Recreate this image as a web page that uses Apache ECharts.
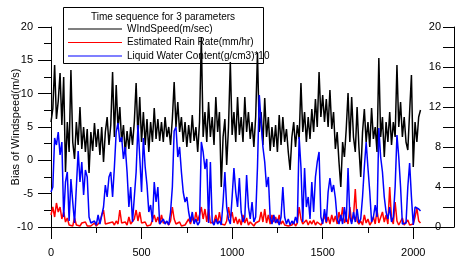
<!DOCTYPE html>
<html>
<head>
<meta charset="utf-8">
<script src="https://cdn.jsdelivr.net/npm/echarts@6/dist/echarts.min.js"></script>
<style>
  html, body { margin: 0; padding: 0; background: #fff; }
  #main { width: 456px; height: 262px; }
</style>
</head>
<body>
<div id="main"></div>
<script>
// one sample every 10 time steps
const step = 10;

const seriesNames = ['WIndSpeed(m/sec)', 'Estimated Rain Rate(mm/hr)', 'Liquid Water Content(g/cm3)*10'];
const seriesColors = ['#000000', '#ff0000', '#0000ff'];

const windSpeed = [
  10.5, 11.8, 16.2, 10.8, 12.6, 15.4, 10.2, 15.0, 5.5, 10.5,
  7.5, 15.7, 8.5, 6.8, 10.5, 8.2, 12.0, 7.8, 10.0, 7.5,
  9.8, 5.4, 9.5, 7.6, 10.4, 8.0, 9.8, 7.2, 10.0, 6.5,
  9.5, 11.0, 8.2, 10.2, 15.5, 9.0, 14.2, 9.8, 12.0, 8.5,
  10.2, 7.4, 9.6, 7.8, 10.0, 8.2, 10.5, 14.4, 9.0, 13.0,
  8.5, 11.5, 8.2, 10.8, 7.5, 10.5, 8.5, 11.9, 8.8, 10.8,
  8.6, 10.5, 8.5, 11.0, 9.0, 10.0, 8.2, 10.8, 14.5, 10.0,
  12.5, 9.5, 11.0, 8.5, 10.5, 8.0, 10.2, 8.4, 11.2, 8.6,
  10.0, 7.5, 10.5, 19.0, 9.0, 11.5, 8.5, 12.5, 9.0, 11.0,
  8.2, 13.0, 9.5, 11.5, 4.0, 9.0, 10.8, 6.2, 10.0, 16.5,
  9.2, 11.5, 8.5, 13.0, 9.2, 11.0, 8.5, 13.0, 9.5, 11.5,
  8.8, 10.5, 8.0, 11.0, 17.4, 9.5, 11.5, 8.2, 12.9, 9.0,
  11.0, 7.6, 10.0, 8.0, 10.2, 7.5, 11.2, 8.2, 11.0, 8.5,
  9.8, 7.5, 5.7, 9.0, 10.5, 8.0, 10.2, 8.8, 14.4, 9.5,
  11.5, 8.5, 11.0, 8.8, 11.8, 9.5, 12.8, 10.0, 15.5, 11.0,
  13.2, 10.5, 12.8, 10.0, 13.7, 9.8, 11.5, 7.8, 9.5, 6.5,
  4.0, 8.5, 7.0, 9.8, 13.4, 8.5, 13.0, 9.0, 7.5, 12.0,
  8.0, 5.0, 9.5, 11.8, 8.5, 10.5, 8.0, 11.9, 8.8, 10.0,
  7.5, 16.9, 9.0, 11.0, 7.0, 10.5, 8.5, 11.5, 8.2, 10.5,
  9.0, 16.2, 10.0, 12.5, 9.0, 11.0, 8.5, 7.7, 11.5, 15.2,
  6.0, 10.5, 8.5, 11.0, 11.7
];

const rainRate = [
  1.2, 2.0, 1.0, 2.4, 1.5, 2.0, 0.8, 1.5, 0.5, 0.9,
  0.2, 0.4, 0.1, 0.9, 0.2, 0.3, 0.1, 0.4, 0.2, 0.5,
  0.1, 0.3, 0.1, 0.2, 0.4, 0.1, 0.3, 0.5, 1.2, 1.7,
  0.3, 0.1, 0.4, 0.2, 0.5, 0.2, 0.6, 0.3, 1.7, 0.4,
  0.2, 0.5, 0.2, 1.0, 0.3, 0.1, 0.8, 1.7, 0.6, 1.5,
  0.4, 0.2, 0.5, 0.1, 0.3, 0.2, 0.4, 1.2, 0.5, 1.0,
  0.3, 1.2, 0.4, 0.2, 0.5, 0.2, 0.6, 2.0, 0.8, 0.3,
  0.2, 0.5, 0.1, 0.3, 0.2, 0.4, 0.8, 0.3, 1.0, 0.4,
  1.5, 0.6, 1.2, 2.0, 0.8, 1.8, 0.5, 1.8, 0.4, 0.2,
  0.5, 1.2, 0.4, 1.5, 0.3, 0.5, 0.2, 0.6, 2.0, 0.9,
  1.5, 0.4, 1.0, 0.3, 0.8, 0.2, 1.2, 0.4, 0.9, 0.2,
  0.5, 0.3, 0.1, 0.4, 0.2, 0.6, 1.5, 0.5, 1.8, 0.4,
  1.2, 0.3, 1.2, 0.5, 1.0, 0.4, 1.2, 0.3, 0.6, 0.2,
  0.4, 0.1, 0.3, 0.2, 0.5, 0.1, 0.4, 2.0, 0.8, 0.3,
  0.5, 0.7, 0.2, 0.6, 0.3, 0.7, 0.2, 0.5, 0.6, 0.2,
  0.5, 1.2, 0.4, 1.0, 0.3, 1.2, 0.5, 1.1, 0.3, 1.5,
  0.6, 2.0, 0.4, 0.9, 0.3, 2.0, 0.5, 1.0, 3.8, 0.6,
  0.3, 0.6, 0.2, 1.2, 0.4, 0.8, 0.2, 0.5, 1.0, 0.3,
  1.7, 0.4, 0.2, 1.5, 0.5, 1.2, 0.3, 4.0, 0.8, 0.3,
  2.5, 0.6, 0.2, 0.4, 0.9, 0.2, 0.3, 0.7, 0.2, 0.4,
  0.3, 1.0, 1.9, 0.6, 0.4
];

const liquidWater = [
  3.5, 4.0, 8.9, 8.2, 9.5, 7.2, 8.5, 1.0, 4.5, 5.5,
  0.6, 4.8, 2.5, 0.4, 0.5, 7.6, 4.5, 6.5, 3.2, 5.7,
  5.0, 1.0, 0.4, 0.2, 0.6, 0.2, 1.2, 0.3, 0.5, 2.0,
  4.2, 3.0, 5.0, 5.5, 3.0, 6.0, 9.5, 10.4, 8.5, 9.0,
  6.8, 8.0, 5.5, 2.0, 4.0, 0.5, 0.4, 5.5, 10.2, 7.0,
  3.5, 8.9, 6.0, 4.2, 1.5, 2.2, 0.5, 4.5, 2.5, 4.0,
  0.3, 0.2, 0.8, 0.3, 0.6, 0.2, 1.5, 4.0, 9.6, 10.0,
  7.0, 8.0, 5.5, 3.5, 2.5, 3.0, 1.5, 0.5, 1.5, 0.3,
  0.8, 0.2, 0.5, 8.5, 7.5, 5.8, 6.8, 0.4, 6.5, 0.5,
  0.2, 0.8, 0.3, 0.6, 0.2, 2.5, 5.5, 2.0, 0.8, 0.3,
  3.0, 5.9, 3.5, 2.0, 4.9, 1.5, 0.5, 1.0, 5.2, 2.0,
  0.8, 2.5, 0.5, 1.0, 6.0, 13.2, 10.5, 8.0, 6.5, 4.0,
  5.0, 1.0, 0.3, 1.2, 0.4, 0.8, 0.2, 1.0, 4.0, 1.0,
  0.3, 0.8, 0.2, 0.6, 0.3, 1.0, 0.4, 9.0, 6.0, 0.5,
  5.9, 2.0, 3.0, 0.8, 4.5, 1.5, 5.0, 6.5, 7.5, 1.0,
  0.3, 1.8, 0.5, 3.5, 4.9, 3.5, 4.2, 2.9, 0.8, 0.3,
  1.2, 0.3, 2.0, 0.5, 5.9, 1.0, 0.3, 1.5, 0.5, 1.8,
  0.4, 0.8, 3.0, 6.0, 8.5, 5.9, 3.5, 0.5, 1.0, 2.2,
  1.0, 9.9, 7.0, 5.5, 3.0, 1.5, 0.8, 2.0, 0.5, 1.0,
  4.0, 9.2, 7.0, 4.0, 0.3, 0.2, 0.4, 4.0, 6.4, 3.0,
  0.2, 2.0, 1.9, 1.8, 1.6
];

const xTicks = [0, 500, 1000, 1500, 2000];
const xMinorTicks = [250, 750, 1250, 1750];
const legendTitle = 'Time sequence for 3 parameters';
const leftAxisName = 'Bias of Windspeed(m/s)';

const font = 'Arial, "Liberation Sans", sans-serif';

function toPairs(arr) {
  return arr.map((v, i) => [i * step, v]);
}

const chart = echarts.init(document.getElementById('main'));

const lineSeries = [windSpeed, rainRate, liquidWater].map((arr, k) => ({
  name: seriesNames[k],
  type: 'line',
  xAxisIndex: 0,
  yAxisIndex: 1,
  data: toPairs(arr),
  symbol: 'none',
  animation: false,
  z: 3,
  lineStyle: { color: seriesColors[k], width: 1.5 },
  itemStyle: { color: seriesColors[k] }
}));

chart.setOption({
  animation: false,
  textStyle: { fontFamily: font },
  grid: { left: 51, right: 2, top: 27, bottom: 35, containLabel: false, outerBoundsMode: 'none' },
  xAxis: [
    {
      type: 'value',
      min: 0,
      max: 2225,
      interval: 500,
      axisLine: { onZero: false, lineStyle: { color: '#000', width: 1 } },
      axisTick: { length: 12, lineStyle: { color: '#000' }, customValues: xTicks },
      axisLabel: { color: '#000', fontSize: 11, margin: 20, customValues: xTicks, formatter: v => String(v) },
      splitLine: { show: false }
    },
    {
      type: 'value',
      min: 0,
      max: 2225,
      position: 'bottom',
      axisLine: { show: false, onZero: false },
      axisTick: { length: 6, lineStyle: { color: '#000' }, customValues: xMinorTicks },
      axisLabel: { show: false },
      splitLine: { show: false }
    }
  ],
  yAxis: [
    {
      type: 'value',
      position: 'left',
      min: -10,
      max: 20,
      interval: 5,
      name: leftAxisName,
      nameLocation: 'middle',
      nameGap: 30,
      nameMoveOverlap: false,
      nameTextStyle: { color: '#000', fontSize: 11 },
      axisLine: { show: true, onZero: false, lineStyle: { color: '#000', width: 1 } },
      axisTick: { show: true, length: 13, lineStyle: { color: '#000' } },
      minorTick: { show: true, splitNumber: 2, length: 7, lineStyle: { color: '#000' } },
      axisLabel: { color: '#000', fontSize: 11, margin: 18 },
      splitLine: { show: false }
    },
    {
      type: 'value',
      position: 'right',
      min: 0,
      max: 20,
      interval: 2,
      axisLine: { show: true, onZero: false, lineStyle: { color: '#000', width: 1 } },
      axisTick: { show: true, inside: true, length: 11, lineStyle: { color: '#000' } },
      axisLabel: {
        inside: true,
        color: '#000',
        fontSize: 11,
        margin: 13,
        formatter: v => (v % 4 === 0 ? String(v) : '')
      },
      splitLine: { show: false }
    }
  ],
  legend: {
    orient: 'vertical',
    left: 63,
    top: 23,
    z: 1,
    padding: [0, 5],
    itemWidth: 54,
    itemHeight: 10,
    itemGap: 1.5,
    textStyle: { color: '#000', fontSize: 10, lineHeight: 12, fontFamily: font },
    data: seriesNames.map((n, k) => ({
      name: n,
      icon: 'path://M0,4.5 L54,4.5 L54,5.5 L0,5.5 Z',
      itemStyle: { color: seriesColors[k], opacity: 1 }
    })),
    selectedMode: false
  },
  graphic: [
    {
      type: 'rect',
      z: 0,
      shape: { x: 63.5, y: 7.5, width: 200, height: 56 },
      style: { fill: '#fff', stroke: '#000', lineWidth: 1 }
    },
    {
      type: 'text',
      z: 1,
      x: 163,
      y: 17,
      style: {
        text: legendTitle,
        font: '10px ' + font,
        fill: '#000',
        textAlign: 'center',
        textVerticalAlign: 'middle'
      }
    }
  ],
  series: lineSeries
});
</script>
</body>
</html>
